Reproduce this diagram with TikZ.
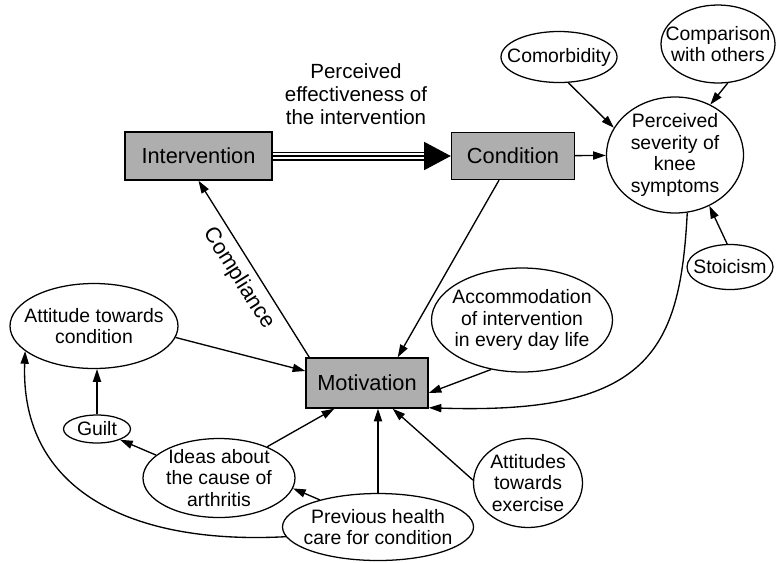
\documentclass[tikz,border=0pt]{standalone}
\usepackage{fontspec}
\setmainfont{Liberation Sans}
\usepackage{tikz}
\usetikzlibrary{shapes.geometric,arrows.meta,calc,positioning}
\definecolor{boxgray}{RGB}{174,174,174}

\begin{document}
\begin{tikzpicture}[
        x=0.025cm, y=-0.025cm,
        box/.style={draw=black, fill=boxgray, line width=1pt, inner sep=0pt, font=\fontsize{15.5}{18}\selectfont},
        oval/.style={draw=black, ellipse, line width=0.9pt, inner sep=0pt},
        txt/.style={align=center, inner sep=0pt, font=\fontsize{13.8}{15.5}\selectfont},
        sz/.style 2 args={minimum width=#1*0.025cm, minimum height=#2*0.025cm},
        arr/.style={line width=0.95pt, -{Triangle[length=9pt,width=5.8pt]}}
    ]
        \useasboundingbox (0,0) rectangle (776,562);

        % Main boxes
        \node[box, sz={147}{48}] (int) at (198.5,156) {Intervention};
        \node[box, sz={123}{47}] (cond) at (513,156) {Condition};
        \node[box, sz={122}{50}] (mot) at (367,383) {Motivation};
        \node[align=center, font=\fontsize{14.6}{16.5}\selectfont] (title) at (356,94) {Perceived\\effectiveness of\\the intervention};

        % Factors
        \node[oval, sz={116}{51}, label={[txt]center:Comorbidity}] (como) at (559,57) {};
        \node[oval, sz={114}{78}, label={[txt]center:{Comparison\\with others}}] (comp) at (718,44) {};
        \node[oval, sz={137}{116}, label={[txt]center:{Perceived\\severity of\\knee\\symptoms}}] (sev) at (675,155) {};
        \node[oval, sz={86}{45}, label={[txt]center:Stoicism}] (stoic) at (730,267) {};
        \node[oval, sz={181}{104}, label={[txt]center:{Accommodation\\of intervention\\in every day life}}] (accom) at (522,320) {};
        \node[oval, sz={168}{85}, label={[txt]center:{Attitude towards\\condition}}] (att) at (94,326) {};
        \node[oval, sz={67}{28}, label={[txt]center:Guilt}] (guilt) at (97,429) {};
        \node[oval, sz={152}{79}, label={[txt]center:{Ideas about\\the cause of\\arthritis}}] (ideas) at (219,478) {};
        \node[oval, sz={191}{67}, label={[txt]center:{Previous health\\care for condition}}] (prev) at (378,527) {};
        \node[oval, sz={109}{89}, label={[txt]center:{Attitudes\\towards\\exercise}}] (exer) at (528,483) {};

        % Effectiveness link
        \draw[line width=1pt, double distance=4.4pt, shorten >=17pt] (int) -- (cond);
        \draw[line width=1pt, -{Triangle[length=19pt,width=20pt]}] (int) -- (cond);

        % Connections
        \draw[arr] (cond) -- (sev);
        \draw[arr] (como.-70) -- (sev.156);
        \draw[arr] (comp.-76) -- (sev.55);
        \draw[arr] (stoic.97) -- (sev.-56);
        \draw[arr] ($(cond.south)+(-14,0)$) -- ($(mot.north east)+(-31,0)$);
        \draw[arr] ($(mot.north west)+(4,0)$) -- node[sloped, below, inner sep=5pt, font=\fontsize{15.5}{18}\selectfont] {Compliance} (int.south);
        \draw[arr] (accom.238) -- ($(mot.east)+(0,10)$);
        \draw[arr] (sev.-78) .. controls (680,350) and (650,415) .. ($(mot.south east)+(0,-1)$);
        \draw[arr] (att.-8) -- ($(mot.west)+(0,-12)$);
        \draw[arr] (guilt.north) -- (guilt.north |- att.south);
        \draw[arr] (ideas.160) -- (guilt.-25);
        \draw[arr] (ideas.33) -- ($(mot.south west)+(29,0)$);
        \draw[arr] (prev.155) -- (ideas.-8);
        \draw[arr] (prev.north) -- (prev.north |- mot.south);
        \draw[arr] (exer.177) -- ($(mot.south east)+(-36,0)$);
        \draw[arr] (prev.186) .. controls (130,545) and (20,490) .. (att.200);
    \end{tikzpicture}
\end{document}
